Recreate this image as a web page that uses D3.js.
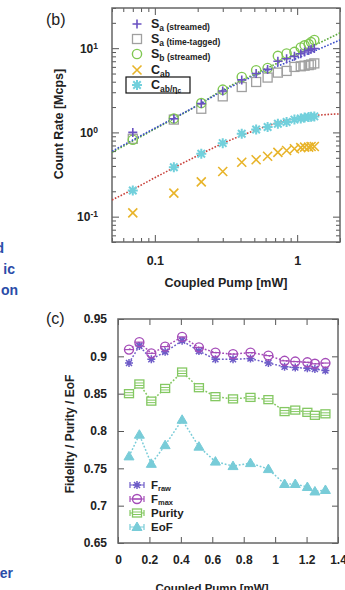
<!DOCTYPE html>
<html>
<head>
<meta charset="utf-8">
<script src="https://cdn.jsdelivr.net/npm/d3@7"></script>
<style>
  body { margin: 0; background: #fff; }
  svg { display: block; font-family: "Liberation Sans", Arial, sans-serif; }
</style>
</head>
<body>
<svg id="chart" width="345" height="590"></svg>
<script>
// pump power [mW], shared by both panels
const pump = [0.07, 0.136, 0.212, 0.3, 0.408, 0.515, 0.62, 0.732, 0.843, 0.957, 1.06, 1.128, 1.205, 1.253, 1.32];

// (b) count rates [Mcps]
const saStreamed = [1.0, 1.45, 2.2, 3.1, 4.2, 5.0, 5.6, 7.0, 7.5, 8.0, 8.6, 9.0, 9.4, 9.7, 9.9];
const saTagged = [0.84, 1.42, 1.91, 2.68, 3.46, 3.97, 4.48, 5.13, 5.37, 5.99, 6.1, 6.2, 6.3, 6.4, 6.6];
const sbStreamed = [0.82, 1.46, 2.23, 3.22, 4.55, 5.47, 5.82, 8.1, 8.65, 9.03, 10.2, 10.8, 11.2, 11.8, 12.5];
const cab = [0.111, 0.19, 0.259, 0.343, 0.443, 0.473, 0.522, 0.58, 0.61, 0.64, 0.66, 0.67, 0.67, 0.68, 0.68];
const cabEta = [0.204, 0.386, 0.557, 0.746, 0.965, 1.085, 1.157, 1.27, 1.33, 1.42, 1.46, 1.5, 1.52, 1.53, 1.55];

// (b) fit curves
const fitX = [0.05, 0.1, 0.2, 0.3, 0.5, 1, 2];
const fitSa = [0.6, 1.12, 2.1, 3.1, 4.7, 7.6, 12.5];
const fitSb = [0.58, 1.1, 2.1, 3.2, 4.9, 8.6, 15.2];
const fitCabX = [0.05, 0.07, 0.1, 0.14, 0.2, 0.3, 0.5, 0.7, 1, 1.4, 2];
const fitCab = [0.158, 0.21, 0.29, 0.39, 0.53, 0.74, 1.05, 1.28, 1.48, 1.6, 1.66];

// (c) fidelity / purity / EoF
const fraw = [0.891, 0.914, 0.896, 0.906, 0.921, 0.907, 0.896, 0.896, 0.897, 0.891, 0.886, 0.885, 0.884, 0.883, 0.881];
const fmax = [0.909, 0.919, 0.904, 0.913, 0.926, 0.912, 0.905, 0.903, 0.905, 0.901, 0.894, 0.893, 0.892, 0.89, 0.891];
const purity = [0.85, 0.863, 0.84, 0.857, 0.879, 0.858, 0.846, 0.843, 0.845, 0.842, 0.826, 0.828, 0.825, 0.821, 0.823];
const eof = [0.766, 0.795, 0.756, 0.781, 0.815, 0.779, 0.759, 0.753, 0.757, 0.749, 0.729, 0.729, 0.725, 0.719, 0.721];

// tick values
const bXTicks = [0.1, 1];
const bXMinor = [0.05, 0.06, 0.07, 0.08, 0.09, 0.2, 0.3, 0.4, 0.5, 0.6, 0.7, 0.8, 0.9, 2];
const bYTicks = [0.1, 1, 10];
const bYExp = ["-1", "0", "1"];
const bYMinor = [0.05, 0.06, 0.07, 0.08, 0.09, 0.2, 0.3, 0.4, 0.5, 0.6, 0.7, 0.8, 0.9,
  2, 3, 4, 5, 6, 7, 8, 9, 20, 30];
const cXTicks = [0, 0.2, 0.4, 0.6, 0.8, 1, 1.2, 1.4];
const cYTicks = [0.65, 0.7, 0.75, 0.8, 0.85, 0.9, 0.95];

const svg = d3.select("#chart");
const bold = "bold";

const plusPath = (s) => `M${-s},0H${s}M0,${-s}V${s}`;
const crossPath = (s) => `M${-s},${-s}L${s},${s}M${-s},${s}L${s},${-s}`;
const starPath = (s) => plusPath(s) + crossPath(s * 0.75);
const triPath = (s) => `M0,${-s}L${s},${s * 0.7}H${-s}Z`;

const pts = (xs, ys) => xs.map((x, i) => ({ x: x, y: ys[i] }));

// ---------------- panel (b) ----------------
const xB = d3.scaleLog().domain([0.05, 2]).range([112, 340]);
const yB = d3.scaleLog().domain([0.05, 30]).range([242, 8]);

function styleAxis(g, size) {
  g.select(".domain").remove();
  g.selectAll("line").attr("stroke", "#555").attr("stroke-width", 1);
  g.selectAll("text")
    .attr("font-family", "Liberation Sans, Arial, sans-serif")
    .attr("font-weight", bold)
    .attr("font-size", size)
    .attr("fill", "#222");
}

const axB = svg.append("g");
axB.append("g").attr("transform", `translate(0,242)`)
  .call(d3.axisBottom(xB).tickValues(bXTicks).tickSizeInner(-7).tickSizeOuter(0).tickPadding(14).tickFormat((d) => String(d)))
  .call(styleAxis, 12.5);
axB.append("g").attr("transform", `translate(0,242)`)
  .call(d3.axisBottom(xB).tickValues(bXMinor).tickSizeInner(-4).tickSizeOuter(0).tickFormat(""))
  .call(styleAxis, 12);
axB.append("g").attr("transform", `translate(0,8)`)
  .call(d3.axisTop(xB).tickValues(bXTicks).tickSizeInner(-7).tickSizeOuter(0).tickFormat(""))
  .call(styleAxis, 12);
axB.append("g").attr("transform", `translate(0,8)`)
  .call(d3.axisTop(xB).tickValues(bXMinor).tickSizeInner(-4).tickSizeOuter(0).tickFormat(""))
  .call(styleAxis, 12);

const yLab = axB.append("g").attr("transform", `translate(112,0)`)
  .call(d3.axisLeft(yB).tickValues(bYTicks).tickSizeInner(-7).tickSizeOuter(0).tickPadding(14).tickFormat(""))
  .call(styleAxis, 12);
yLab.selectAll(".tick text").each(function (d, i) {
  const t = d3.select(this);
  t.append("tspan").text("10");
  t.append("tspan").attr("dy", "-0.45em").attr("font-size", 8.5).text(bYExp[i]);
});
axB.append("g").attr("transform", `translate(112,0)`)
  .call(d3.axisLeft(yB).tickValues(bYMinor).tickSizeInner(-4).tickSizeOuter(0).tickFormat(""))
  .call(styleAxis, 12);
axB.append("g").attr("transform", `translate(340,0)`)
  .call(d3.axisRight(yB).tickValues(bYTicks).tickSizeInner(-7).tickSizeOuter(0).tickFormat(""))
  .call(styleAxis, 12);
axB.append("g").attr("transform", `translate(340,0)`)
  .call(d3.axisRight(yB).tickValues(bYMinor).tickSizeInner(-4).tickSizeOuter(0).tickFormat(""))
  .call(styleAxis, 12);

svg.append("rect").attr("x", 112).attr("y", 8).attr("width", 228).attr("height", 234)
  .attr("fill", "none").attr("stroke", "#666").attr("stroke-width", 1.5);

// fit lines
const lineB = d3.line().x((d) => xB(d.x)).y((d) => yB(d.y)).curve(d3.curveMonotoneX);
svg.append("clipPath").attr("id", "clipB").append("rect")
  .attr("x", 112).attr("y", 8).attr("width", 228).attr("height", 234);
const fits = svg.append("g").attr("clip-path", "url(#clipB)");
fits.append("path").attr("d", lineB(pts(fitCabX, fitCab)))
  .attr("fill", "none").attr("stroke", "#c8403a").attr("stroke-width", 1.6).attr("stroke-dasharray", "1.6,1.6");
fits.append("path").attr("d", lineB(pts(fitX, fitSb)))
  .attr("fill", "none").attr("stroke", "#5aa83a").attr("stroke-width", 1.6).attr("stroke-dasharray", "1.6,1.6");
fits.append("path").attr("d", lineB(pts(fitX, fitSa)))
  .attr("fill", "none").attr("stroke", "#3a4cc8").attr("stroke-width", 1.6).attr("stroke-dasharray", "1.6,1.6");

// markers
const mB = svg.append("g");
mB.selectAll(".tag").data(pts(pump, saTagged)).enter().append("rect")
  .attr("x", (d) => xB(d.x) - 4.5).attr("y", (d) => yB(d.y) - 4.5)
  .attr("width", 9).attr("height", 9)
  .attr("fill", "none").attr("stroke", "#a0a0a0").attr("stroke-width", 1.3);
mB.selectAll(".cab").data(pts(pump, cab)).enter().append("path")
  .attr("transform", (d) => `translate(${xB(d.x)},${yB(d.y)})`)
  .attr("d", crossPath(4.5)).attr("stroke", "#e8b42a").attr("stroke-width", 1.6).attr("fill", "none");
mB.selectAll(".cabeta").data(pts(pump, cabEta)).enter().append("path")
  .attr("transform", (d) => `translate(${xB(d.x)},${yB(d.y)})`)
  .attr("d", starPath(5)).attr("stroke", "#72d0dc").attr("stroke-width", 2).attr("fill", "none");
mB.selectAll(".sb").data(pts(pump, sbStreamed)).enter().append("circle")
  .attr("cx", (d) => xB(d.x)).attr("cy", (d) => yB(d.y)).attr("r", 4.6)
  .attr("fill", "none").attr("stroke", "#80c852").attr("stroke-width", 1.4);
mB.selectAll(".sa").data(pts(pump, saStreamed)).enter().append("path")
  .attr("transform", (d) => `translate(${xB(d.x)},${yB(d.y)})`)
  .attr("d", plusPath(4.5)).attr("stroke", "#6a52c2").attr("stroke-width", 1.6).attr("fill", "none");

// legend (b)
const legB = svg.append("g");
const legBRows = [
  { y: 24, main: "S", sub: "a", note: " (streamed)" },
  { y: 39, main: "S", sub: "a", note: " (time-tagged)" },
  { y: 54, main: "S", sub: "b", note: " (streamed)" },
  { y: 70, main: "C", sub: "ab", note: "" },
  { y: 85, main: "C", sub: "ab/η", subsub: "c", note: "" },
];
legB.append("path").attr("d", plusPath(4.5)).attr("transform", "translate(137,24)")
  .attr("stroke", "#6a52c2").attr("stroke-width", 1.6);
legB.append("rect").attr("x", 132.5).attr("y", 34.5).attr("width", 9).attr("height", 9)
  .attr("fill", "none").attr("stroke", "#a0a0a0").attr("stroke-width", 1.3);
legB.append("circle").attr("cx", 137).attr("cy", 54).attr("r", 4.6)
  .attr("fill", "none").attr("stroke", "#80c852").attr("stroke-width", 1.4);
legB.append("path").attr("d", crossPath(4.5)).attr("transform", "translate(137,70)")
  .attr("stroke", "#e8b42a").attr("stroke-width", 1.6);
legB.append("path").attr("d", starPath(5)).attr("transform", "translate(137,85)")
  .attr("stroke", "#72d0dc").attr("stroke-width", 2);
legBRows.forEach((r) => {
  const t = legB.append("text").attr("x", 151).attr("y", r.y + 4)
    .attr("font-weight", bold).attr("font-size", 12.5).attr("fill", "#222");
  t.append("tspan").text(r.main);
  t.append("tspan").attr("font-size", 8.5).attr("dy", 2.5).text(r.sub);
  if (r.subsub) t.append("tspan").attr("font-size", 6.5).attr("dy", 1.5).text(r.subsub);
  if (r.note) t.append("tspan").attr("font-size", 8.5).attr("dy", -1).text(r.note);
});
legB.append("rect").attr("x", 126).attr("y", 77).attr("width", 64).attr("height", 16)
  .attr("fill", "none").attr("stroke", "#111").attr("stroke-width", 1.2);

svg.append("text").attr("x", 226).attr("y", 287).attr("text-anchor", "middle")
  .attr("font-weight", bold).attr("font-size", 12.5).attr("fill", "#222").text("Coupled Pump [mW]");
svg.append("text").attr("transform", "translate(63,124) rotate(-90)").attr("text-anchor", "middle")
  .attr("font-weight", bold).attr("font-size", 12.5).attr("fill", "#222").text("Count Rate [Mcps]");
svg.append("text").attr("x", 46).attr("y", 25).attr("font-size", 16).attr("fill", "#222").text("(b)");

// ---------------- panel (c) ----------------
const xC = d3.scaleLinear().domain([0, 1.4]).range([118, 338]);
const yC = d3.scaleLinear().domain([0.65, 0.95]).range([543, 319]);

const axC = svg.append("g");
axC.append("g").attr("transform", "translate(0,543)")
  .call(d3.axisBottom(xC).tickValues(cXTicks).tickSizeInner(-6).tickSizeOuter(0).tickPadding(12).tickFormat((d) => String(d)))
  .call(styleAxis, 12);
axC.append("g").attr("transform", "translate(0,319)")
  .call(d3.axisTop(xC).tickValues(cXTicks).tickSizeInner(-6).tickSizeOuter(0).tickFormat(""))
  .call(styleAxis, 12);
axC.append("g").attr("transform", "translate(118,0)")
  .call(d3.axisLeft(yC).tickValues(cYTicks).tickSizeInner(-6).tickSizeOuter(0).tickPadding(11).tickFormat((d) => String(d)))
  .call(styleAxis, 12);
axC.append("g").attr("transform", "translate(338,0)")
  .call(d3.axisRight(yC).tickValues(cYTicks).tickSizeInner(-6).tickSizeOuter(0).tickFormat(""))
  .call(styleAxis, 12);
svg.append("rect").attr("x", 118).attr("y", 319).attr("width", 220).attr("height", 224)
  .attr("fill", "none").attr("stroke", "#666").attr("stroke-width", 1.5);

const lineC = d3.line().x((d) => xC(d.x)).y((d) => yC(d.y));
const seriesC = [
  { name: "eof", vals: eof, color: "#78ccd8" },
  { name: "purity", vals: purity, color: "#84c862" },
  { name: "fraw", vals: fraw, color: "#6e5cc8" },
  { name: "fmax", vals: fmax, color: "#a44cb8" },
];
seriesC.forEach((s) => {
  svg.append("path").attr("d", lineC(pts(pump, s.vals)))
    .attr("fill", "none").attr("stroke", s.color).attr("stroke-width", 1.5).attr("stroke-dasharray", "1.8,1.8");
});

function markerC(g, name, color) {
  if (name === "eof") {
    g.append("path").attr("d", triPath(5)).attr("fill", color).attr("stroke", color).attr("stroke-width", 1);
  } else if (name === "purity") {
    g.append("rect").attr("x", -4.5).attr("y", -4).attr("width", 9).attr("height", 8)
      .attr("fill", "#fff").attr("stroke", color).attr("stroke-width", 1.3);
    g.append("path").attr("d", "M-4.5,-1H4.5M-4.5,1.5H4.5").attr("stroke", color).attr("stroke-width", 1);
  } else if (name === "fraw") {
    g.append("path").attr("d", starPath(4)).attr("stroke", color).attr("stroke-width", 1.5).attr("fill", "none");
  } else {
    g.append("circle").attr("r", 4.5).attr("fill", "none").attr("stroke", color).attr("stroke-width", 1.4);
    g.append("path").attr("d", "M-4.5,0H4.5").attr("stroke", color).attr("stroke-width", 1.2);
  }
}

seriesC.forEach((s) => {
  svg.selectAll(".m-" + s.name).data(pts(pump, s.vals)).enter().append("g")
    .attr("class", "m-" + s.name)
    .attr("transform", (d) => `translate(${xC(d.x)},${yC(d.y)})`)
    .each(function () { markerC(d3.select(this), s.name, s.color); });
});

// legend (c)
const legC = [
  { name: "fraw", main: "F", sub: "raw", y: 485, color: "#6e5cc8" },
  { name: "fmax", main: "F", sub: "max", y: 499, color: "#a44cb8" },
  { name: "purity", main: "Purity", sub: "", y: 513, color: "#84c862" },
  { name: "eof", main: "EoF", sub: "", y: 527, color: "#78ccd8" },
];
legC.forEach((r) => {
  const g = svg.append("g").attr("transform", `translate(137,${r.y})`);
  g.append("path").attr("d", "M-7,0H7M-7,-3V3M7,-3V3").attr("stroke", r.color).attr("stroke-width", 1.2);
  markerC(g, r.name, r.color);
  const t = svg.append("text").attr("x", 151).attr("y", r.y + 4)
    .attr("font-weight", bold).attr("font-size", 11.5).attr("fill", "#222");
  t.append("tspan").text(r.main);
  if (r.sub) t.append("tspan").attr("font-size", 7.5).attr("dy", 1.5).text(r.sub);
});

svg.append("text").attr("x", 212).attr("y", 592).attr("text-anchor", "middle")
  .attr("font-weight", bold).attr("font-size", 11.5).attr("fill", "#222").text("Coupled Pump [mW]");
svg.append("text").attr("transform", "translate(74,434) rotate(-90)").attr("text-anchor", "middle")
  .attr("font-weight", bold).attr("font-size", 12).attr("fill", "#222").text("Fidelity / Purity / EoF");
svg.append("text").attr("x", 46).attr("y", 324).attr("font-size", 16).attr("fill", "#222").text("(c)");

// cut-off caption text on the left edge
const sideText = [
  { t: "d", x: 4, y: 253 },
  { t: "ic", x: 15, y: 274 },
  { t: "on", x: 18, y: 295 },
  { t: "er", x: 13, y: 578 },
];
svg.selectAll(".side").data(sideText).enter().append("text")
  .attr("x", (d) => d.x).attr("y", (d) => d.y).attr("text-anchor", "end")
  .attr("font-weight", bold).attr("font-size", 14).attr("fill", "#2a4ca8").text((d) => d.t);
</script>
</body>
</html>
